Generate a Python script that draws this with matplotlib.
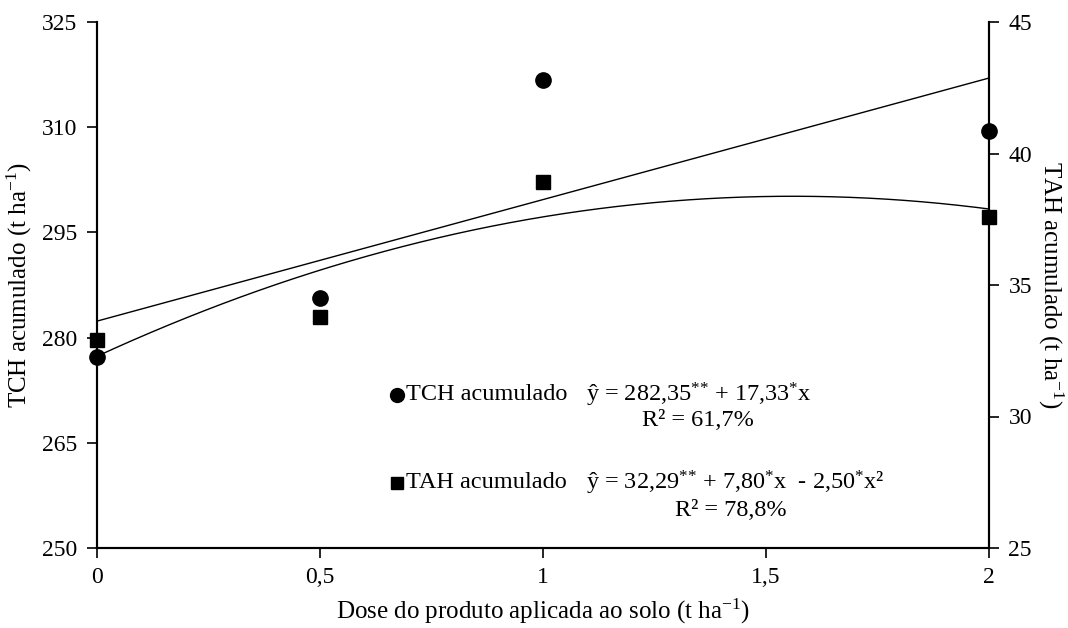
import numpy as np
import matplotlib
matplotlib.use("Agg")
import matplotlib.pyplot as plt

plt.rcParams["font.family"] = ["Liberation Serif", "DejaVu Serif"]
plt.rcParams["mathtext.fontset"] = "custom"
plt.rcParams["mathtext.rm"] = "Liberation Serif"
plt.rcParams["mathtext.it"] = "Liberation Serif:italic"

# data
dose = [0, 0.5, 1, 2]
tch = [277.2, 285.7, 316.8, 309.4]
tah = [32.9, 33.8, 38.9, 37.6]

# trendline coefficients (highest power first), as printed on the chart
tch_coef = [17.33, 282.35]
tah_coef = [-2.50, 7.80, 32.29]

x_ticks = [0, 0.5, 1, 1.5, 2]
x_labels = ["0", "0,5", "1", "1,5", "2"]
left_ticks = [250, 265, 280, 295, 310, 325]
right_ticks = [25, 30, 35, 40, 45]

fig = plt.figure(figsize=(10.68, 6.28), dpi=100)
ax = fig.add_axes([97 / 1068, 1 - 548 / 628, 892 / 1068, 526 / 628])
ax2 = ax.twinx()

xs = np.linspace(0, 2, 200)
ax.plot(xs, np.polyval(tch_coef, xs), color="black", lw=1.0)
ax2.plot(xs, np.polyval(tah_coef, xs), color="black", lw=1.0)
ax.plot(dose, tch, "o", color="black", ms=11, clip_on=False, zorder=5)
ax2.plot(dose, tah, "s", color="black", ms=10, clip_on=False, zorder=5)

ax.set_xlim(0, 2)
ax.set_ylim(250, 325)
ax2.set_ylim(25, 45)
ax.set_xticks(x_ticks)
ax.set_xticklabels(x_labels)
ax.set_yticks(left_ticks)
ax2.set_yticks(right_ticks)

for a in (ax, ax2):
    a.spines["top"].set_visible(False)
    for s in ("left", "right", "bottom"):
        a.spines[s].set_linewidth(1.5)
        a.spines[s].set_color("black")
    a.tick_params(labelsize=17, width=1.2, length=7, colors="black", pad=7)

sup = "$^{\\mathrm{-1}}$"
ax.set_xlabel("Dose do produto aplicada ao solo (t ha" + sup + ")", fontsize=18, labelpad=6)
ax.set_ylabel("TCH acumulado (t ha" + sup + ")", fontsize=18, labelpad=6)
ax2.set_ylabel("TAH acumulado (t ha" + sup + ")", fontsize=18, rotation=270, labelpad=24)

# equation legend
fs = 17.5
ax.plot([0.336], [0.291], "o", color="black", ms=10, transform=ax.transAxes, clip_on=False)
ax.text(0.346, 0.291, "TCH acumulado", fontsize=fs, va="center", transform=ax.transAxes)
ax.text(0.548, 0.291, "ŷ = 282,35$^{{*}{*}}$ + 17,33$^{*}$x", fontsize=fs, va="center",
        transform=ax.transAxes)
ax.text(0.611, 0.243, "R² = 61,7%", fontsize=fs, va="center", transform=ax.transAxes)

ax.plot([0.336], [0.124], "s", color="black", ms=9, transform=ax.transAxes, clip_on=False)
ax.text(0.346, 0.124, "TAH acumulado", fontsize=fs, va="center", transform=ax.transAxes)
ax.text(0.548, 0.124, "ŷ = 32,29$^{{*}{*}}$ + 7,80$^{*}$x  - 2,50$^{*}$x²", fontsize=fs,
        va="center", transform=ax.transAxes)
ax.text(0.648, 0.072, "R² = 78,8%", fontsize=fs, va="center", transform=ax.transAxes)

fig.savefig("out.png", dpi=100)
